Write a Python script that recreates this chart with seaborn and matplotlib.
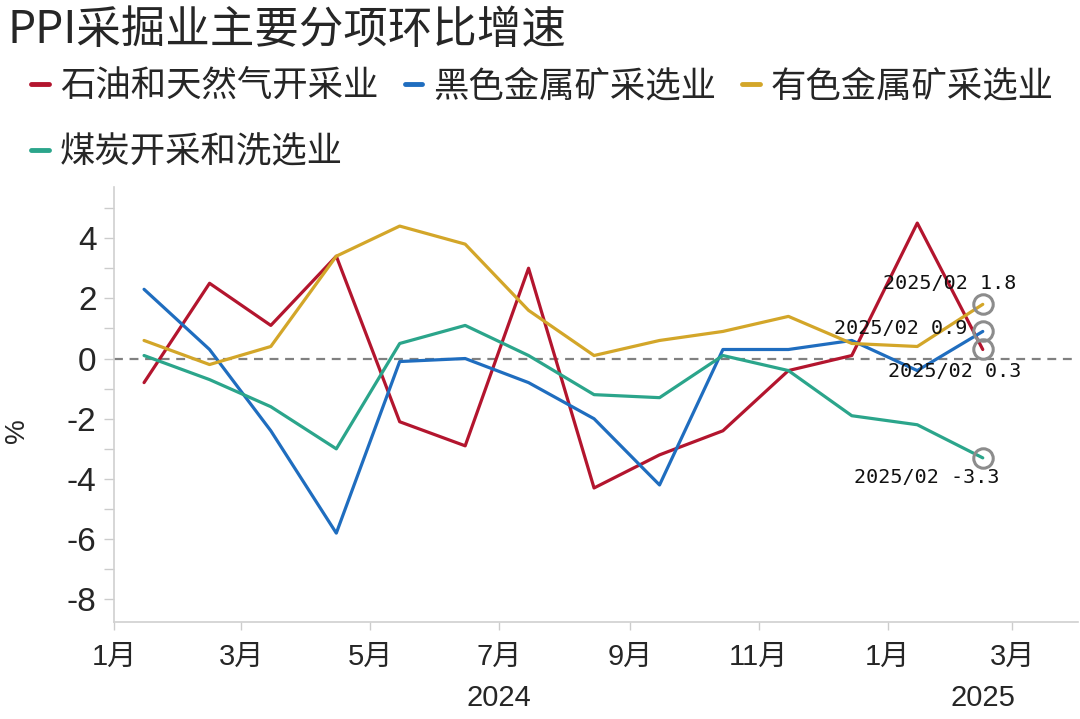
import matplotlib
matplotlib.use("Agg")
import matplotlib.pyplot as plt
import matplotlib.dates as mdates
import matplotlib.transforms as mtransforms
from matplotlib.lines import Line2D
import numpy as np
import pandas as pd
import seaborn as sns

# ---- data ----
months = pd.date_range("2024-01-01", periods=14, freq="MS") + pd.Timedelta(days=14)
oil_gas = [-0.8, 2.5, 1.1, 3.4, -2.1, -2.9, 3.0, -4.3, -3.2, -2.4, -0.4, 0.1, 4.5, 0.3]
ferrous = [2.3, 0.3, -2.4, -5.8, -0.1, 0.0, -0.8, -2.0, -4.2, 0.3, 0.3, 0.6, -0.4, 0.9]
nonferrous = [0.6, -0.2, 0.4, 3.4, 4.4, 3.8, 1.6, 0.1, 0.6, 0.9, 1.4, 0.5, 0.4, 1.8]
coal = [0.1, -0.7, -1.6, -3.0, 0.5, 1.1, 0.1, -1.2, -1.3, 0.1, -0.4, -1.9, -2.2, -3.3]

series_names = ["石油和天然气开采业", "黑色金属矿采选业", "有色金属矿采选业", "煤炭开采和洗选业"]
series_values = [oil_gas, ferrous, nonferrous, coal]
colors = ["#B3152E", "#1F6DBF", "#D3A629", "#2BA58B"]

tick_dates = pd.to_datetime(["2024-01-01", "2024-03-01", "2024-05-01", "2024-07-01",
                             "2024-09-01", "2024-11-01", "2025-01-01", "2025-03-01"])
tick_labels = ["1月", "3月", "5月", "7月", "9月", "11月", "1月", "3月"]
year_labels = ["2024", "2025"]
year_centers = pd.to_datetime(["2024-07-01", "2025-02-15"])

title = "PPI采掘业主要分项环比增速"

df = pd.DataFrame({
    "date": np.tile(months, len(series_names)),
    "value": np.concatenate(series_values),
    "series": np.repeat(series_names, len(months)),
})

# ---- style ----
sns.set_theme(style="ticks")
plt.rcParams["font.family"] = ["Liberation Sans", "Noto Sans CJK SC", "DejaVu Sans"]
plt.rcParams["axes.unicode_minus"] = False

fig = plt.figure(figsize=(10.8, 7.19), dpi=100)
ax = fig.add_axes([0.106, 0.135, 0.892, 0.605])

sns.lineplot(data=df, x="date", y="value", hue="series", hue_order=series_names,
             palette=colors, linewidth=2.3, ax=ax, legend=False)

# zero line
ax.axhline(0, color="#808080", linestyle=(0, (4, 3)), linewidth=1.6, zorder=1)

# end markers + annotations
last_date = months[-1]
offsets = {"石油和天然气开采业": (-20, -16), "黑色金属矿采选业": (-59, 2),
           "有色金属矿采选业": (-24, 15), "煤炭开采和洗选业": (-40, -14)}
for name, vals in zip(series_names, series_values):
    v = vals[-1]
    ax.plot([last_date], [v], marker="o", markersize=14, markerfacecolor="none",
            markeredgecolor="#8c8c8c", markeredgewidth=2.2, zorder=5)
    dx, dy = offsets[name]
    ax.annotate(f"2025/02 {v:.1f}", xy=(last_date, v), xytext=(dx, dy),
                textcoords="offset points", ha="center", va="center",
                fontsize=14.5, family=["DejaVu Sans Mono"], color="#111111", zorder=6)

# axes limits / ticks
ax.set_xlim(pd.Timestamp("2024-01-01"), pd.Timestamp("2025-04-01"))
ax.set_ylim(-8.75, 5.7)
ax.set_yticks(np.arange(-8, 5, 2))
ax.set_yticks(np.arange(-8, 6, 1), minor=True)
ax.set_yticklabels([str(int(t)) for t in np.arange(-8, 5, 2)])
ax.set_xticks(mdates.date2num(tick_dates))
ax.set_xticklabels(tick_labels)
ax.set_xlabel("")
ax.set_ylabel("%", fontsize=20)
ax.yaxis.set_label_coords(-0.088, 0.44)

ax.tick_params(axis="y", which="both", direction="out", length=7, width=1, color="#cccccc",
               labelsize=24, pad=6)
ax.tick_params(axis="x", which="major", direction="out", length=6, width=1, color="#cccccc",
               labelsize=21, pad=9)
for s in ["top", "right"]:
    ax.spines[s].set_visible(False)
for s in ["left", "bottom"]:
    ax.spines[s].set_color("#d0d0d0")
    ax.spines[s].set_linewidth(1.2)

# year labels
trans = mtransforms.blended_transform_factory(ax.transData, ax.transAxes)
for lab, c in zip(year_labels, year_centers):
    ax.text(mdates.date2num(c), -0.175, lab, transform=trans, ha="center", va="center",
            fontsize=21)

# title
fig.text(0.007, 0.958, title, fontsize=32, ha="left", va="center",
         family=["Noto Sans CJK SC", "DejaVu Sans"])

# legend (reordered so rows read A B C / D)
handles = [Line2D([0], [0], color=c, linewidth=3.5) for c in colors]
order = [0, 3, 1, 2]
leg = fig.legend([handles[i] for i in order], [series_names[i] for i in order],
                 ncol=3, loc="upper left", bbox_to_anchor=(0.029, 0.905),
                 frameon=False, handlelength=0.5, handletextpad=0.3,
                 columnspacing=0.75, labelspacing=0.85, borderaxespad=0, borderpad=0,
                 prop={"family": ["Noto Sans CJK SC"], "size": 25.5})

fig.savefig("out.png", dpi=100, facecolor="white")
